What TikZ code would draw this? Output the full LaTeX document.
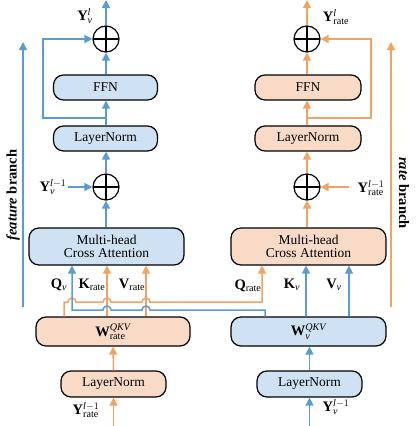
\documentclass[tikz,border=0pt]{standalone}
\usepackage{fontspec}
\setmainfont{Liberation Serif}
\usetikzlibrary{arrows.meta,calc}
\definecolor{bl}{HTML}{5B9BD5}
\definecolor{blf}{HTML}{CFE2F3}
\definecolor{orl}{HTML}{F4A261}
\definecolor{orf}{HTML}{F9DAC6}
\begin{document}
\begin{tikzpicture}[x=1pt,y=-1pt,font=\fontsize{13.5}{15}\selectfont,
 box/.style={draw=black,line width=1.2pt,rounded corners=10pt,minimum height=25pt,align=center,inner sep=0pt},
 bbox/.style={box,fill=blf},
 obox/.style={box,fill=orf},
 plus/.style={draw=black,line width=1.2pt,circle,minimum size=26pt,inner sep=0pt,
   path picture={\draw[line width=1.2pt] (path picture bounding box.north) -- (path picture bounding box.south) (path picture bounding box.west) -- (path picture bounding box.east);}},
 ba/.style={draw=bl,line width=1.5pt,-{Triangle[width=8pt,length=8pt]}},
 oa/.style={draw=orl,line width=1.5pt,-{Triangle[width=8pt,length=8pt]}},
 lab/.style={inner sep=0pt,font=\fontsize{14.5}{16}\selectfont},
 wtxt/.style={font=\fontsize{14.5}{16}\selectfont}]
\useasboundingbox (0,0) rectangle (416,426);
% ---------- left column (feature) ----------
\node[plus] (Lp2) at (106,39) {};
\node[bbox,minimum width=104pt] (LFFN) at (105.5,87.5) {FFN};
\node[bbox,minimum width=104pt] (LLN1) at (105.5,138.5) {LayerNorm};
\node[plus] (Lp1) at (106,187) {};
\node[bbox,minimum width=155pt,minimum height=37pt] (LMHA) at (106.5,246.5) {Multi-head\\[-2pt]Cross Attention};
\node[obox,wtxt,minimum width=154pt,minimum height=29pt] (LW) at (113,331.5) {$\mathbf{W}_{\mathrm{rate}}^{\mathit{QKV}}$};
\node[obox,minimum width=105pt,minimum height=26pt] (LLN0) at (113.5,384) {LayerNorm};
% ---------- right column (rate) ----------
\node[plus] (Rp2) at (307,39) {};
\node[obox,minimum width=106pt] (RFFN) at (308,87.5) {FFN};
\node[obox,minimum width=106pt] (RLN1) at (308,138.5) {LayerNorm};
\node[plus] (Rp1) at (307,187) {};
\node[obox,minimum width=155pt,minimum height=37pt] (RMHA) at (308.5,246.5) {Multi-head\\[-2pt]Cross Attention};
\node[bbox,wtxt,minimum width=155pt,minimum height=29pt] (RW) at (308.5,331.5) {$\mathbf{W}_{\mathit{v}}^{\mathit{QKV}}$};
\node[bbox,minimum width=105pt,minimum height=26pt] (RLN0) at (309.5,384) {LayerNorm};
% ---------- labels ----------
\node[lab] (yvl) at (85,16) {$\mathbf{Y}_{\mathit{v}}^{\mathit{l}}$};
\node[lab] (yrl) at (336,17) {$\mathbf{Y}_{\mathrm{rate}}^{\mathit{l}}$};
\node[lab] (yvlm) at (53,187) {$\mathbf{Y}_{\mathit{v}}^{\mathit{l}-1}$};
\node[lab] (yrlm) at (371,188) {$\mathbf{Y}_{\mathrm{rate}}^{\mathit{l}-1}$};
\node[lab] (yrb) at (86,410) {$\mathbf{Y}_{\mathrm{rate}}^{\mathit{l}-1}$};
\node[lab] (yvb) at (336,407) {$\mathbf{Y}_{\mathit{v}}^{\mathit{l}-1}$};
\node[lab] (qv) at (59,285) {$\mathbf{Q}_{\mathit{v}}$};
\node[lab] (kr) at (92,285) {$\mathbf{K}_{\mathrm{rate}}$};
\node[lab] (vr) at (132,285) {$\mathbf{V}_{\mathrm{rate}}$};
\node[lab] (qr) at (248,286) {$\mathbf{Q}_{\mathrm{rate}}$};
\node[lab] (kv) at (292,285) {$\mathbf{K}_{\mathit{v}}$};
\node[lab] (vv) at (334,285) {$\mathbf{V}_{\mathit{v}}$};
\node[lab,rotate=90] (fb) at (13,195) {\textbf{\textit{feature} branch}};
\node[lab,rotate=-90] (rb) at (404,193) {\textbf{\textit{rate} branch}};
% ---------- helper coordinates ----------
\coordinate (top) at (106,0);
\coordinate (topR) at (307,0);
\coordinate (botL) at (113.5,426);
\coordinate (botR) at (309.5,426);
\coordinate (skL) at (43,118);
\coordinate (skR) at (371,118);
\coordinate (inL) at (68,187);
\coordinate (inR) at (349,187);
\coordinate (oh) at (64,302);
\coordinate (oe) at (262,302);
\coordinate (bh) at (265,310);
\coordinate (qvx) at (72,310);
\coordinate (krx) at (107,0);
\coordinate (vrx) at (146,0);
\coordinate (kvx) at (306,0);
\coordinate (vvx) at (349,0);
\coordinate (fb1) at (23,307);
\coordinate (fb2) at (23,42);
\coordinate (rb1) at (391,307);
\coordinate (rb2) at (391,42);
% ---------- left connectors ----------
\draw[oa] (botL) -- (LLN0.south);
\draw[oa] (LLN0.north) -- (LW.south);
\draw[ba] (LMHA.north -| Lp1) -- (Lp1.south);
\draw[ba] (inL) -- (Lp1.west);
\draw[ba] (Lp1.north) -- (LLN1.south -| Lp1);
\draw[ba] (LLN1.north -| Lp1) -- (LFFN.south -| Lp1);
\draw[ba] (LFFN.north -| Lp2) -- (Lp2.south);
\draw[ba] (Lp2.north) -- (top);
\draw[ba] (Lp2 |- skL) -- (skL) -- (skL |- Lp2) -- (Lp2.west);
% ---------- right connectors ----------
\draw[ba] (botR) -- (RLN0.south);
\draw[ba] (RLN0.north) -- (RW.south -| RLN0);
\draw[oa] (RMHA.north -| Rp1) -- (Rp1.south);
\draw[oa] (inR) -- (Rp1.east);
\draw[oa] (Rp1.north) -- (RLN1.south -| Rp1);
\draw[oa] (RLN1.north -| Rp1) -- (RFFN.south -| Rp1);
\draw[oa] (RFFN.north -| Rp2) -- (Rp2.south);
\draw[oa] (Rp2.north) -- (topR);
\draw[oa] (Rp2 |- skR) -- (skR) -- (skR |- Rp2) -- (Rp2.east);
% ---------- Q K V connectors ----------
\draw[oa] (krx |- LW.north) -- (krx |- LMHA.south);
\draw[oa] (vrx |- LW.north) -- (vrx |- LMHA.south);
\draw[ba] (kvx |- RW.north) -- (kvx |- RMHA.south);
\draw[ba] (vvx |- RW.north) -- (vvx |- RMHA.south);
% orange: W_rate -> Q_rate (hops over three lines)
\draw[oa] (oh |- LW.north) -- (oh)
  -- ($(qvx |- oh)+(-4,0)$) arc[start angle=180,end angle=0,radius=4pt]
  -- ($(krx |- oh)+(-4,0)$) arc[start angle=180,end angle=0,radius=4pt]
  -- ($(vrx |- oh)+(-4,0)$) arc[start angle=180,end angle=0,radius=4pt]
  -- (oe) -- (oe |- RMHA.south);
% blue: W_v -> Q_v (hops over two lines)
\draw[ba] (bh |- RW.north) -- (bh)
  -- ($(vrx |- bh)+(4,0)$) arc[start angle=0,end angle=180,radius=4pt]
  -- ($(krx |- bh)+(4,0)$) arc[start angle=0,end angle=180,radius=4pt]
  -- (qvx) -- (qvx |- LMHA.south);
% ---------- branch arrows ----------
\draw[ba] (fb1) -- (fb2);
\draw[oa] (rb1) -- (rb2);
\end{tikzpicture}
\end{document}
